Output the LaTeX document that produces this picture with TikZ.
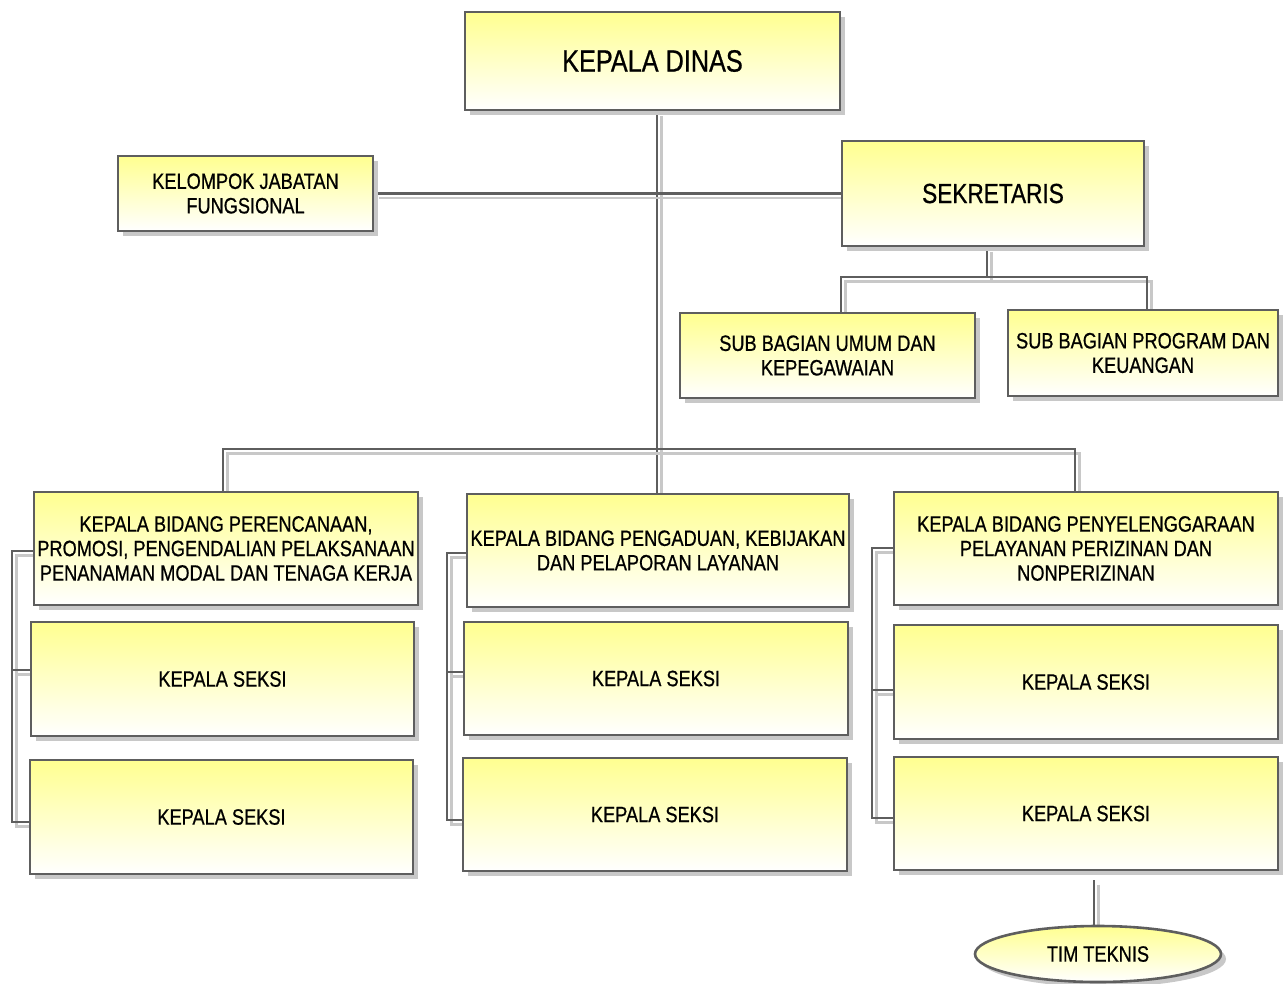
\documentclass[tikz,border=0pt]{standalone}
\usepackage{fontspec}
\setmainfont{Liberation Sans}[FakeStretch=0.82,FakeBold=0.7]
\usetikzlibrary{shadows,shapes.geometric,backgrounds,calc}
\definecolor{bord}{HTML}{5E5E5E}
\definecolor{shad}{HTML}{C8C8C8}
\definecolor{yel}{HTML}{FFFF90}
\tikzset{
  orgbox/.style={draw=bord, line width=2.6pt, rectangle, top color=yel, bottom color=white,
    align=center, inner sep=0pt, font=\fontsize{22.2}{24.5}\selectfont,
    drop shadow={shadow xshift=5pt, shadow yshift=-5pt, fill=shad, opacity=1}},
  bigbox/.style={orgbox, font=\fontsize{30.8}{34}\selectfont},
  mainline/.style={draw=bord, line width=2.6pt},
  shadline/.style={draw=shad, line width=2.6pt, transform canvas={xshift=4.5pt, yshift=-4.5pt}},
}
\newcommand\orgconn[1]{\draw[shadline] #1; \draw[mainline] #1;}
\begin{document}
\begin{tikzpicture}[x=1pt,y=-1pt]
\useasboundingbox (0,0) rectangle (1288,983);
\node[bigbox, minimum width=375pt, minimum height=98pt] (kd) at (652.5,61) {KEPALA DINAS};
\node[orgbox, minimum width=255pt, minimum height=75pt] (kjf) at (245.5,193.5) {KELOMPOK JABATAN\\FUNGSIONAL};
\node[bigbox, minimum width=302pt, minimum height=105pt, font=\fontsize{27.6}{30}\selectfont] (sek) at (993,193.5) {SEKRETARIS};
\node[orgbox, minimum width=295pt, minimum height=85pt] (sbu) at (827.5,355.5) {SUB BAGIAN UMUM DAN\\KEPEGAWAIAN};
\node[orgbox, minimum width=270pt, minimum height=86pt] (sbp) at (1143,353) {SUB BAGIAN PROGRAM DAN\\KEUANGAN};
\node[orgbox, minimum width=384pt, minimum height=113pt] (b1) at (226,548.5) {KEPALA BIDANG PERENCANAAN,\\PROMOSI, PENGENDALIAN PELAKSANAAN\\PENANAMAN MODAL DAN TENAGA KERJA};
\node[orgbox, minimum width=382pt, minimum height=113pt] (b2) at (658,550.5) {KEPALA BIDANG PENGADUAN, KEBIJAKAN\\DAN PELAPORAN LAYANAN};
\node[orgbox, minimum width=384pt, minimum height=113pt] (b3) at (1086,548.5) {KEPALA BIDANG PENYELENGGARAAN\\PELAYANAN PERIZINAN DAN\\NONPERIZINAN};
\node[orgbox, minimum width=383pt, minimum height=114pt] (s11) at (222.5,679) {KEPALA SEKSI};
\node[orgbox, minimum width=383pt, minimum height=114pt] (s12) at (221.5,817) {KEPALA SEKSI};
\node[orgbox, minimum width=384pt, minimum height=113pt] (s21) at (656,678.5) {KEPALA SEKSI};
\node[orgbox, minimum width=384pt, minimum height=113pt] (s22) at (655,814.5) {KEPALA SEKSI};
\node[orgbox, minimum width=384pt, minimum height=114pt] (s31) at (1086,682) {KEPALA SEKSI};
\node[orgbox, minimum width=384pt, minimum height=113pt] (s32) at (1086,813.5) {KEPALA SEKSI};
\node[orgbox, ellipse, minimum width=246pt, minimum height=56pt] (tim) at (1098,954) {TIM TEKNIS};
\coordinate (m) at (657,449);
\coordinate (ba) at (223,449);
\coordinate (bb) at (1075,449);
\coordinate (sj) at (987,277);
\coordinate (sa) at (841,277);
\coordinate (sb) at (1147,277);
\coordinate (l1) at (12,551); \coordinate (l2) at (12,670); \coordinate (l3) at (12,822);
\coordinate (c1) at (447,553); \coordinate (c2) at (447,672); \coordinate (c3) at (447,820);
\coordinate (r1) at (872,548); \coordinate (r2) at (872,690); \coordinate (r3) at (872,818);
\coordinate (tt) at (1094,880);
\begin{scope}[on background layer]
\orgconn{(m |- kd.south) -- (m |- b2.north)}
\orgconn{(kjf.east) -- (kjf.east -| sek.west)}
\orgconn{(sj |- sek.south) -- (sj)}
\orgconn{(sa |- sbu.north) -- (sa) -- (sb) -- (sb |- sbp.north)}
\orgconn{(ba |- b1.north) -- (ba) -- (bb) -- (bb |- b3.north)}
\orgconn{(l1 -| b1.west) -- (l1) -- (l3) -- (l3 -| s12.west) (l2) -- (l2 -| s11.west)}
\orgconn{(c1 -| b2.west) -- (c1) -- (c3) -- (c3 -| s22.west) (c2) -- (c2 -| s21.west)}
\orgconn{(r1 -| b3.west) -- (r1) -- (r3) -- (r3 -| s32.west) (r2) -- (r2 -| s31.west)}
\orgconn{(tt) -- (tt |- tim.north)}
\end{scope}
\end{tikzpicture}
\end{document}
